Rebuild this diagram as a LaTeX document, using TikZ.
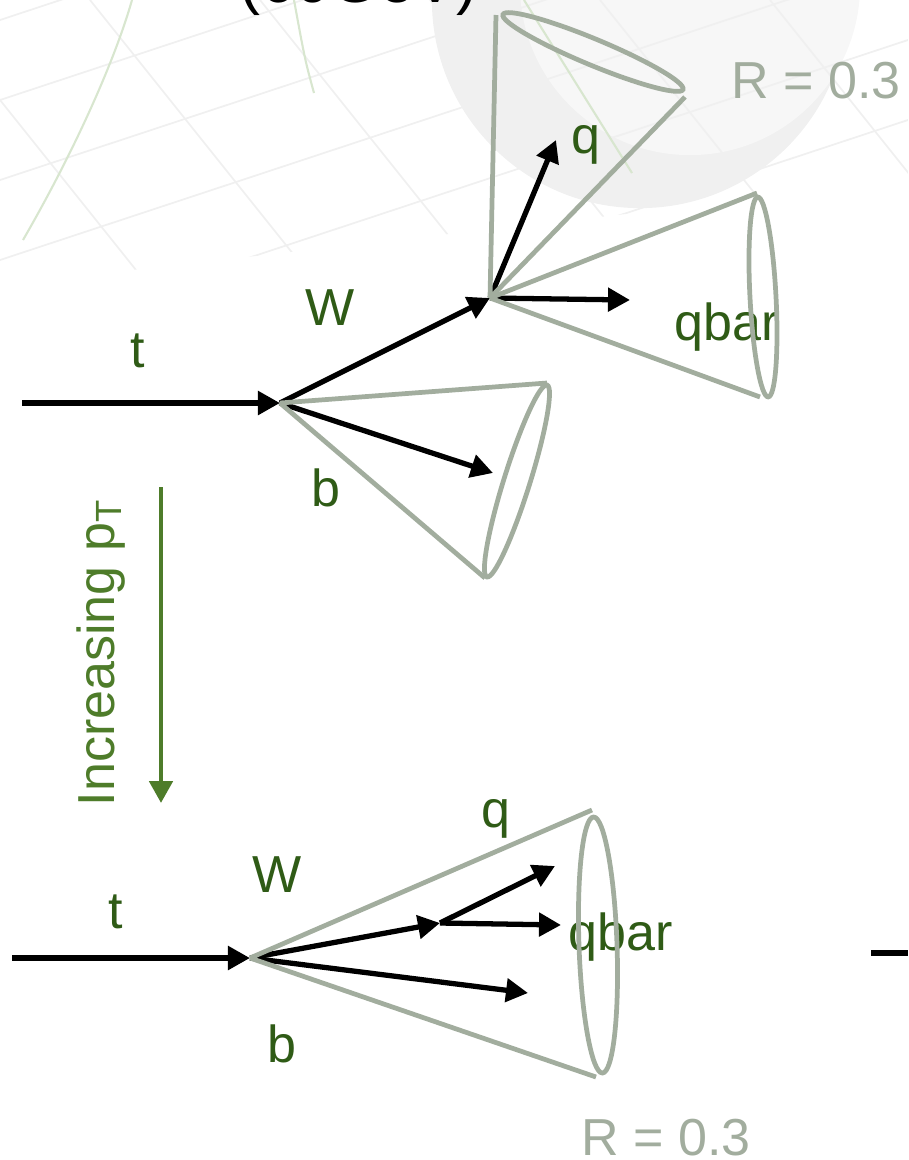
\documentclass[tikz,border=0pt]{standalone}
\usepackage{fontspec}
\setmainfont{Liberation Sans}
\usetikzlibrary{arrows.meta}
\definecolor{jetGray}{HTML}{A2AD9E}
\definecolor{labelGreen}{HTML}{2F5B16}
\definecolor{ptGreen}{HTML}{4E7C2A}
\definecolor{curveGreen}{HTML}{D8E6CF}

\begin{document}
\begin{tikzpicture}[x=0.01cm, y=-0.01cm,
    parton/.style={line width=1.5pt, -{Triangle[length=0.22cm, width=0.23cm]}},
    cone/.style={jetGray, line width=1.35pt},
    lbl/.style={labelGreen, font=\fontsize{14.8}{17}\selectfont, inner sep=0pt, anchor=base}]
\useasboundingbox (0,0) rectangle (908,1160);

% faint slide background
\begin{scope}
  \clip (0,0) -- (908,0) -- (908,182) -- (0,285) -- cycle;
  \fill[black!6] (640,0) circle[radius=2.08cm];
  \fill[black!3] (690,-15) circle[radius=1.7cm];
  \foreach \s in {-420,-250,...,900}
    \draw[black!6, line width=0.5pt] (\s,0) -- ++(320,400);
  \foreach \s in {20,100,...,700}
    \draw[black!6, line width=0.5pt] (0,\s) -- ++(908,-300);
  \draw[curveGreen, line width=0.6pt] (23,240) .. controls (75,150) and (115,60) .. (132,0);
  \draw[curveGreen, line width=0.6pt] (314,93) .. controls (305,60) .. (294,0);
  \draw[curveGreen, line width=0.6pt] (524,0) -- (632,173);
\end{scope}
\node[anchor=base west, inner sep=0pt, font=\fontsize{17.9}{20}\selectfont] (energy) at (239,2) {(60GeV)};

% lower momentum: t -> W b, W -> q qbar
\coordinate (tA0) at (22,403);
\coordinate (tA) at (280,403);
\coordinate (wA) at (490,298);
\coordinate (bA) at (493,473);
\coordinate (qA) at (556,140);
\coordinate (qbA) at (630,300);

\node[lbl] (tlabA) at (138,367) {t};
\node[lbl] (wlabA) at (330,325) {W};
\node[lbl] (blabA) at (326,506) {b};
\node[lbl] (qlabA) at (586,153) {q};
\node[lbl] (qblabA) at (727,340) {qbar};
\node[lbl, jetGray, anchor=base west] (rlabA) at (731,98) {R = 0.3};

\draw[parton] (tA0) -- (tA);
\draw[parton] (tA) -- (wA);
\draw[parton] (tA) -- (bA);
\draw[parton] (wA) -- (qA);
\draw[parton] (wA) -- (qbA);

% jet cones
\coordinate (bconeU) at (547,383);
\coordinate (bconeL) at (485,578);
\coordinate (bconeC) at (517,481);
\draw[cone] (tA) -- (bconeU) (tA) -- (bconeL);
\draw[cone, rotate around={-17.4:(bconeC)}] (bconeC) ellipse [x radius=0.13cm, y radius=1.005cm];

\coordinate (qconeL) at (496,15);
\coordinate (qconeR) at (685,97);
\coordinate (qconeC) at (593,52);
\draw[cone] (wA) -- (qconeL) (wA) -- (qconeR);
\draw[cone, rotate around={-22.6:(qconeC)}] (qconeC) ellipse [x radius=0.975cm, y radius=0.13cm];

\coordinate (qbconeU) at (757,193);
\coordinate (qbconeL) at (760,397);
\coordinate (qbconeC) at (763,297);
\draw[cone] (wA) -- (qbconeU) (wA) -- (qbconeL);
\draw[cone, rotate around={3:(qbconeC)}] (qbconeC) ellipse [x radius=0.13cm, y radius=1.0cm];

% direction of increasing pT
\coordinate (ptTop) at (161,487);
\coordinate (ptBot) at (161,803);
\draw[ptGreen, line width=1.4pt, -{Triangle[length=0.22cm, width=0.23cm]}] (ptTop) -- (ptBot);
\node[rotate=90, anchor=base west, inner sep=0pt, ptGreen, font=\fontsize{14.8}{17}\selectfont] (incr) at (114,807) {Increasing p\textsubscript{T}};

% boosted top: everything in one cone
\coordinate (tB0) at (12,958);
\coordinate (tB) at (250,958);
\coordinate (wB) at (440,923);
\coordinate (bB) at (528,993);
\coordinate (qB) at (555,866);
\coordinate (qbB) at (561,925);

\node[lbl] (tlabB) at (116,928) {t};
\node[lbl] (wlabB) at (277,892) {W};
\node[lbl] (blabB) at (282,1062) {b};
\node[lbl] (qlabB) at (496,827) {q};
\node[lbl] (qblabB) at (621,950) {qbar};
\node[lbl, jetGray] (rlabB) at (666,1155) {R = 0.3};

\draw[parton] (tB0) -- (tB);
\draw[parton] (tB) -- (wB);
\draw[parton] (tB) -- (bB);
\draw[parton] (wB) -- (qB);
\draw[parton] (wB) -- (qbB);

\coordinate (fatU) at (592,810);
\coordinate (fatL) at (596,1077);
\coordinate (fatC) at (598,945);
\draw[cone] (tB) -- (fatU) (tB) -- (fatL);
\draw[cone, rotate around={2:(fatC)}] (fatC) ellipse [x radius=0.19cm, y radius=1.28cm];

% edge of the next sketch
\coordinate (nextL) at (871,953);
\coordinate (nextR) at (908,953);
\draw[line width=1.5pt] (nextL) -- (nextR);
\end{tikzpicture}
\end{document}
